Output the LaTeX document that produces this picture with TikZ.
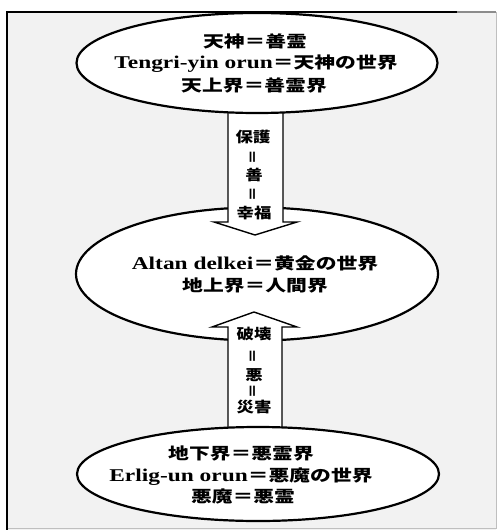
\documentclass[tikz,border=0pt]{standalone}
\usepackage{fontspec}
\setmainfont{Liberation Serif}
\newfontfamily\jp{Noto Sans CJK JP}
\usepackage{graphicx}
\usetikzlibrary{shapes.geometric}
\tikzset{
  world/.style={ellipse, draw, line width=2.2pt, fill=white, inner sep=0pt},
  txt/.style={inner sep=0pt, anchor=base, font=\bfseries\fontsize{18}{20}\selectfont},
  atxt/.style={inner sep=0pt, anchor=center, font=\jp\bfseries\fontsize{14.5}{16}\selectfont},
  vbar/.style={atxt, rotate=90},
  bigarrow/.style={draw, line width=1.4pt, fill=white, line join=miter}
}
\newcommand{\J}[1]{{\jp\fontsize{16}{18}\selectfont #1}}
\newcommand{\W}[1]{\scalebox{1.3}[1]{#1}}
\newcommand{\A}[1]{\scalebox{1.2}[1]{#1}}
\begin{document}
\begin{tikzpicture}[x=1pt,y=-1pt]
\useasboundingbox (0,0) rectangle (498,530);
% frame
\fill[black!5] (7,12) rectangle (496,530);
\draw[black!25, line width=1pt] (496,12) -- (496,528) -- (7,528);
\draw[black!45, line width=1.5pt] (455,12) -- (496,12);
\draw[line width=2pt] (7,530) -- (7,12) -- (457,12);
% middle world
\node[world, minimum width=362pt, minimum height=133pt] (mid) at (257,274) {};
% arrows
\draw[bigarrow] (228,95) -- (228,222) -- (214,222) -- (255,235) -- (297,222) -- (283,222) -- (283,95);
\draw[bigarrow] (228,445) -- (228,327) -- (212,327) -- (254,312) -- (297,327) -- (282,327) -- (282,445);
% top and bottom worlds
\node[world, minimum width=361pt, minimum height=100pt] (top) at (257,63) {};
\node[world, minimum width=362pt, minimum height=94pt] (bot) at (258,474) {};
% top texts
\node[txt] (t1) at (255,47) {\W{\J{天神＝善霊}}};
\node[txt] (t2) at (256,68) {\W{Tengri-yin orun\J{＝天神の世界}}};
\node[txt] (t3) at (254,91) {\W{\J{天上界＝善霊界}}};
% middle texts
\node[txt] (m1) at (255,269) {\W{Altan delkei\J{＝黄金の世界}}};
\node[txt] (m2) at (255,291) {\W{\J{地上界＝人間界}}};
% bottom texts
\node[txt] (b1) at (241,459) {\W{\J{地下界＝悪霊界}}};
\node[txt] (b2) at (241,481) {\W{Erlig-un orun\J{＝悪魔の世界}}};
\node[txt] (b3) at (243,502) {\W{\J{悪魔＝悪霊}}};
% down arrow texts
\node[atxt] (d1) at (253,137) {\A{保護}};
\node[vbar] (d2) at (254,157) {＝};
\node[atxt] (d3) at (254,175) {\A{善}};
\node[vbar] (d4) at (254,194) {＝};
\node[atxt] (d5) at (254,213) {\A{幸福}};
% up arrow texts
\node[atxt] (u1) at (254,334) {\A{破壊}};
\node[vbar] (u2) at (254,356) {＝};
\node[atxt] (u3) at (254,375) {\A{悪}};
\node[vbar] (u4) at (254,391) {＝};
\node[atxt] (u5) at (254,407) {\A{災害}};
\end{tikzpicture}
\end{document}
